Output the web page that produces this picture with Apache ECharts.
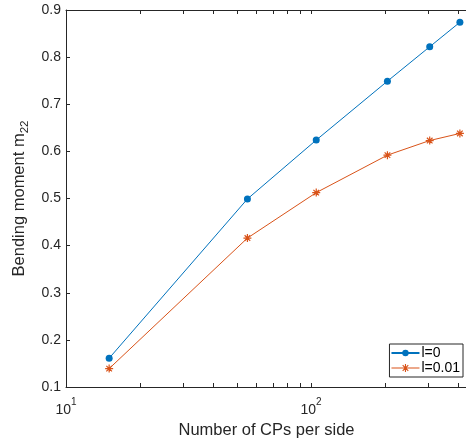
<!DOCTYPE html>
<html>
<head>
<meta charset="utf-8">
<script src="https://cdn.jsdelivr.net/npm/echarts@6/dist/echarts.min.js"></script>
<style>html,body{margin:0;padding:0;background:#fff}#c{width:466px;height:439px}</style>
</head>
<body>
<div id="c"></div>
<script>
// ---- data ----
const cpsPerSide = [15, 55, 105, 205, 305, 405];
const momentL0 = [0.161, 0.499, 0.624, 0.749, 0.822, 0.874];
const momentL001 = [0.139, 0.416, 0.5125, 0.592, 0.623, 0.638];
const seriesNames = ['l=0', 'l=0.01'];
const xTickValues = [10, 20, 30, 40, 50, 60, 70, 80, 90, 100, 200, 300, 400];
const xLabelValues = [10, 100];
const xName = 'Number of CPs per side';
const yName = 'Bending moment m{sub|22}';

const FONT = '"Liberation Sans", Arial, Helvetica, sans-serif';
const AX = '#262626';
const BLUE = '#0072BD';
const ORANGE = '#D95319';
const STAR = 'path://M5,0L5,10M0,5L10,5M1.5,1.5L8.5,8.5M1.5,8.5L8.5,1.5';
const STAR_LEGEND = 'path://M0,5L28,5M14,1L14,9M10,5L18,5M11.2,2.2L16.8,7.8M11.2,7.8L16.8,2.2';

const chart = echarts.init(document.getElementById('c'), null, {renderer: 'canvas'});

function xAxisBase(pos, showLabels) {
  return {
    type: 'log', logBase: 10, min: 10, max: 433, position: pos,
    axisLine: {show: true, onZero: false, lineStyle: {color: AX, width: 1}},
    axisTick: {show: true, inside: true, length: 4, customValues: xTickValues, lineStyle: {color: AX, width: 1}},
    minorTick: {show: false},
    splitLine: {show: false},
    axisLabel: showLabels ? {
      show: true, customValues: xLabelValues, margin: 10,
      formatter: v => '{b|10}{sup|' + Math.round(Math.log10(v)) + '}',
      rich: {
        b: {fontSize: 14, fontFamily: FONT, color: AX, lineHeight: 20, verticalAlign: 'bottom'},
        sup: {fontSize: 10, fontFamily: FONT, color: AX, lineHeight: 20, verticalAlign: 'top'}
      }
    } : {show: false}
  };
}

const option = {
  animation: false,
  backgroundColor: '#fff',
  grid: {left: 66, top: 10, width: 401, height: 377, containLabel: false, outerBoundsMode: 'none'},
  xAxis: [
    Object.assign(xAxisBase('bottom', true), {
      name: xName, nameLocation: 'middle', nameGap: 29,
      nameTextStyle: {fontSize: 16.5, fontFamily: FONT, color: AX}
    }),
    xAxisBase('top', false)
  ],
  yAxis: {
    type: 'value', min: 0.1, max: 0.9, interval: 0.1,
    name: yName, nameLocation: 'middle', nameGap: 25,
    nameTextStyle: {
      fontSize: 16.5, fontFamily: FONT, color: AX,
      rich: {
        sub: {fontSize: 11.5, fontFamily: FONT, color: AX, lineHeight: 22, verticalAlign: 'bottom'}
      },
      lineHeight: 22, verticalAlign: 'top'
    },
    axisLine: {show: true, lineStyle: {color: AX, width: 1}},
    axisTick: {show: true, inside: true, length: 4, lineStyle: {color: AX}},
    splitLine: {show: false},
    axisLabel: {fontSize: 14, fontFamily: FONT, color: AX, margin: 5, formatter: v => v.toFixed(1)}
  },
  legend: {
    orient: 'vertical', right: 3, bottom: 62,
    backgroundColor: '#fff', borderColor: AX, borderWidth: 1, borderRadius: 0,
    padding: [2, 3, 2, 1], itemGap: 1, itemWidth: 28, itemHeight: 8,
    textStyle: {fontSize: 14, fontFamily: FONT, color: '#000', padding: [0, 0, 0, -3]},
    data: [
      {name: seriesNames[0]},
      {name: seriesNames[1], icon: STAR_LEGEND, itemStyle: {color: ORANGE, borderColor: ORANGE, borderWidth: 1.1}}
    ]
  },
  series: [
    {
      name: seriesNames[0], type: 'line', xAxisIndex: 0,
      data: cpsPerSide.map((x, i) => [x, momentL0[i]]),
      symbol: 'circle', symbolSize: 7, showAllSymbol: true,
      lineStyle: {color: BLUE, width: 1},
      itemStyle: {color: BLUE}
    },
    {
      name: seriesNames[1], type: 'line', xAxisIndex: 0,
      data: cpsPerSide.map((x, i) => [x, momentL001[i]]),
      symbol: STAR, symbolSize: 8, showAllSymbol: true,
      lineStyle: {color: ORANGE, width: 1},
      itemStyle: {color: ORANGE, borderColor: ORANGE, borderWidth: 1.2}
    }
  ]
};
chart.setOption(option);
</script>
</body>
</html>
